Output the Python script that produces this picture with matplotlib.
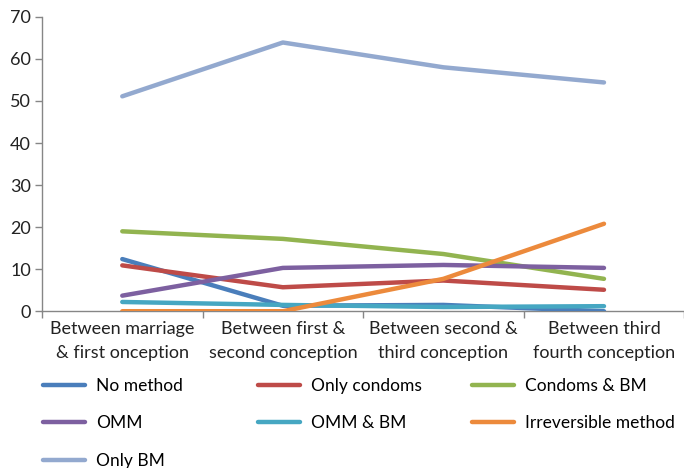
import matplotlib.pyplot as plt

plt.rcParams['font.family'] = ['Lato', 'DejaVu Sans']

categories = ["Between marriage\n& first onception",
              "Between first &\nsecond conception",
              "Between second &\nthird conception",
              "Between third\nfourth conception"]

no_method = [12.4, 1.3, 1.5, 0.0]
only_condoms = [10.9, 5.7, 7.3, 5.1]
condoms_bm = [19.0, 17.2, 13.6, 7.7]
omm = [3.7, 10.3, 11.0, 10.3]
omm_bm = [2.2, 1.5, 1.0, 1.2]
irreversible = [0.0, 0.0, 7.7, 20.8]
only_bm = [51.1, 63.9, 58.0, 54.4]

series = [
    ("No method", no_method, "#4A7EBB"),
    ("Only condoms", only_condoms, "#BE4B48"),
    ("Condoms & BM", condoms_bm, "#92B450"),
    ("OMM", omm, "#7D60A0"),
    ("OMM & BM", omm_bm, "#46A7C2"),
    ("Irreversible method", irreversible, "#EC8A3C"),
    ("Only BM", only_bm, "#93A9CF"),
]

fig = plt.figure(figsize=(6.84, 4.68), dpi=100)
ax = fig.add_axes([0.0614, 0.335, 0.939, 0.629])

x = range(len(categories))
lines = {}
for name, vals, col in series:
    ln, = ax.plot(x, vals, color=col, lw=3.2, solid_capstyle='round')
    lines[name] = ln

ax.set_xlim(-0.5, 3.5)
ax.set_ylim(0, 70)
ax.set_yticks(range(0, 71, 10))

# boundary ticks without labels, category names at the centres
ax.set_xticks([-0.5, 0.5, 1.5, 2.5, 3.5])
ax.set_xticklabels([])
ax.set_xticks(list(x), minor=True)
ax.set_xticklabels(categories, minor=True, fontsize=13, color="#222222",
                   linespacing=1.6)
ax.tick_params(axis='x', which='minor', length=0, pad=7)
ax.tick_params(axis='x', which='major', length=5, color="#868686", width=1)
ax.tick_params(axis='y', length=5, color="#868686", width=1, labelsize=13,
               labelcolor="#222222", pad=3)

for s in ['top', 'right']:
    ax.spines[s].set_visible(False)
for s in ['left', 'bottom']:
    ax.spines[s].set_color("#868686")
    ax.spines[s].set_linewidth(1)
ax.spines['bottom'].set_zorder(0)

# legend laid out in three columns, filled row by row
cols = [["No method", "OMM", "Only BM"],
        ["Only condoms", "OMM & BM"],
        ["Condoms & BM", "Irreversible method"]]
xpos = [0.063, 0.377, 0.69]
for names, xp in zip(cols, xpos):
    fig.legend([lines[n] for n in names], names, loc='upper left',
               bbox_to_anchor=(xp, 0.193),
               bbox_transform=fig.transFigure, frameon=False,
               fontsize=12.5, handlelength=2.42, handletextpad=0.63,
               labelspacing=1.25, borderaxespad=0, borderpad=0)

fig.savefig("out.png", dpi=100)
